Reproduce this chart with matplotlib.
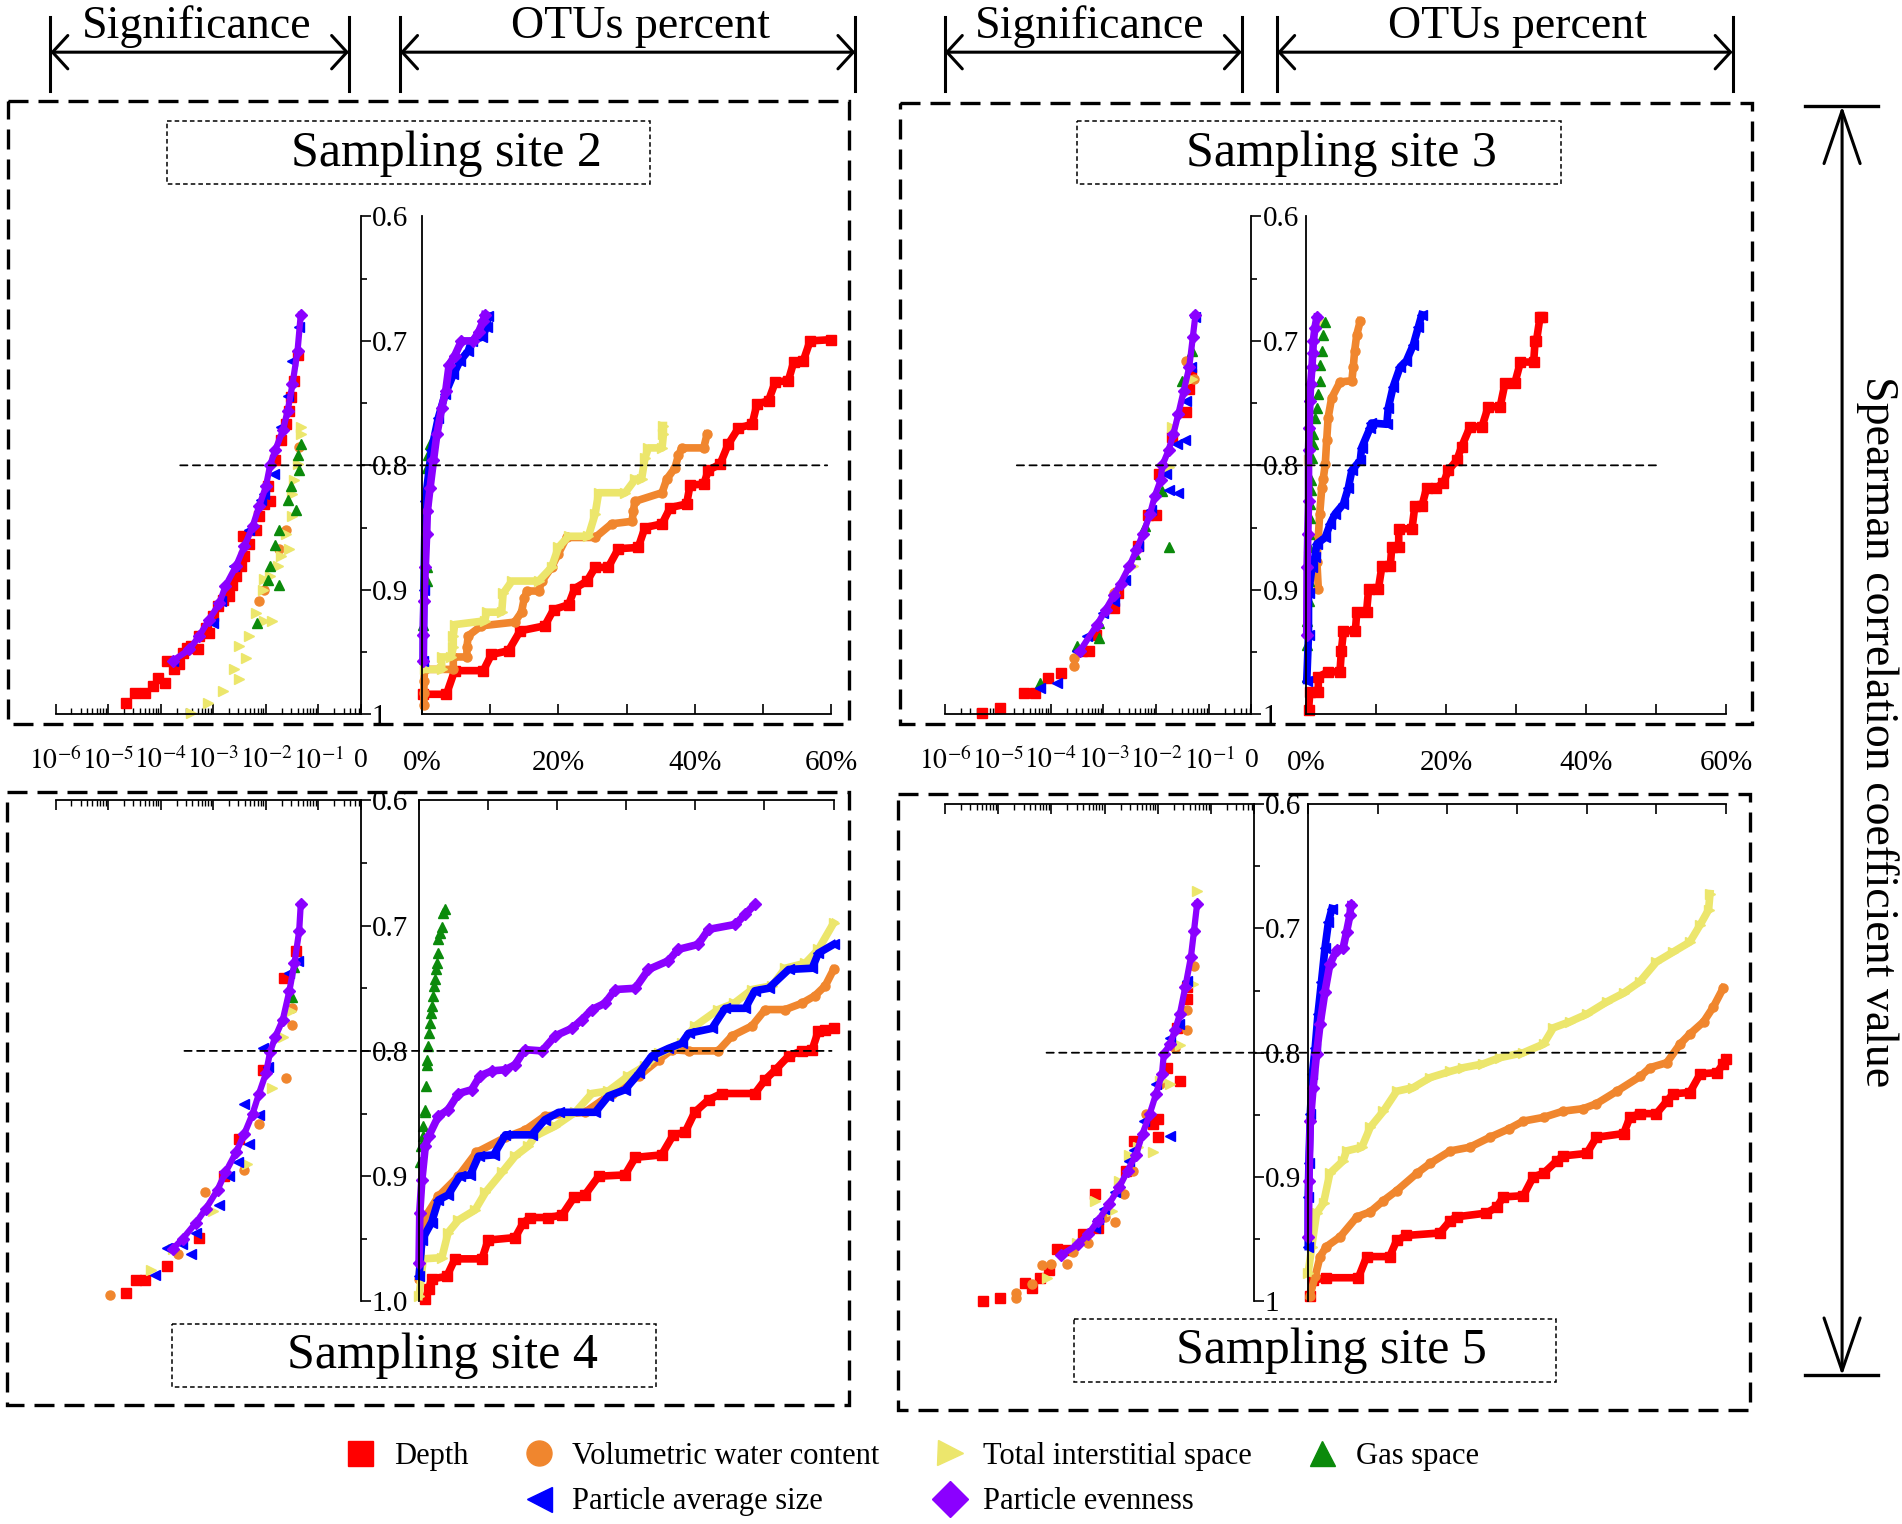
import matplotlib.pyplot as plt
from matplotlib.patches import Rectangle, ConnectionPatch
from matplotlib.lines import Line2D
from matplotlib.ticker import FixedLocator, LogLocator, NullFormatter

plt.rcParams['font.family'] = ['Liberation Serif', 'DejaVu Serif']
plt.rcParams['mathtext.fontset'] = 'stix'

# ---------------- data: OTUs percent (x in %, r = spearman) ----------------
# site 2
s2_otu_depth = [0.2, 3.6, 4.8, 9.0, 10.2, 12.7, 14.4, 18.0, 19.3, 21.5, 22.4, 24.2, 25.4, 27.3, 28.8, 31.7, 32.7,
                35.2, 36.4, 38.8, 39.3, 41.3, 42.0, 43.7, 44.9, 46.4, 48.4, 49.1, 50.8, 51.8, 53.7, 54.5, 55.9, 56.9, 60.0]
s2_otu_depth_r = [0.984, 0.984, 0.965, 0.965, 0.952, 0.949, 0.933, 0.929, 0.916, 0.912, 0.899, 0.893, 0.882, 0.882,
                  0.867, 0.866, 0.850, 0.847, 0.834, 0.831, 0.816, 0.815, 0.804, 0.799, 0.783, 0.770, 0.767, 0.751,
                  0.748, 0.733, 0.732, 0.717, 0.716, 0.700, 0.699]
s2_otu_vwc = [0.3, 0.3, 0.3, 0.4, 4.6, 4.6, 6.6, 6.6, 6.8, 8.7, 13.6, 14.6, 15.0, 15.4, 17.1, 17.6, 19.0, 20.0, 21.2,
              25.4, 27.8, 30.8, 31.0, 31.2, 35.2, 35.9, 37.1, 37.6, 38.1, 41.3, 41.8]
s2_otu_vwc_r = [0.993, 0.983, 0.973, 0.964, 0.964, 0.954, 0.954, 0.946, 0.937, 0.929, 0.926, 0.918, 0.907, 0.901,
                0.901, 0.893, 0.882, 0.871, 0.858, 0.858, 0.847, 0.845, 0.837, 0.829, 0.822, 0.811, 0.802, 0.792,
                0.786, 0.786, 0.775]
s2_otu_tis = [0.4, 2.9, 2.9, 4.3, 4.6, 4.6, 4.8, 9.2, 9.5, 11.7, 11.9, 13.2, 17.1, 19.0, 20.0, 21.5, 24.4, 25.4, 25.9,
              29.8, 31.3, 32.2, 32.7, 33.2, 35.2, 35.4, 35.4]
s2_otu_tis_r = [0.964, 0.964, 0.954, 0.954, 0.946, 0.937, 0.928, 0.925, 0.918, 0.918, 0.903, 0.893, 0.893, 0.882,
                0.866, 0.857, 0.857, 0.839, 0.822, 0.822, 0.811, 0.811, 0.794, 0.786, 0.786, 0.775, 0.768]
s2_otu_gas = [0.2, 0.7, 0.8, 0.7, 0.9, 1.2]
s2_otu_gas_r = [0.928, 0.893, 0.882, 0.802, 0.792, 0.783]
s2_otu_pas = [0.2, 0.3, 0.5, 1.4, 2.4, 3.4, 4.6, 5.6, 6.8, 7.3, 8.8, 9.5, 9.7]
s2_otu_pas_r = [0.957, 0.900, 0.829, 0.788, 0.762, 0.743, 0.727, 0.716, 0.708, 0.700, 0.697, 0.689, 0.680]
s2_otu_pe = [0.2, 0.2, 0.3, 0.5, 0.7, 0.8, 1.2, 1.7, 2.2, 2.9, 3.5, 4.0, 4.8, 5.8, 7.5, 8.3, 9.0, 9.2]
s2_otu_pe_r = [0.957, 0.936, 0.909, 0.882, 0.855, 0.837, 0.818, 0.796, 0.775, 0.754, 0.740, 0.719, 0.712, 0.700,
               0.700, 0.693, 0.684, 0.679]

# site 3
s3_otu_depth = [0.3, 0.5, 1.7, 1.7, 3.1, 4.8, 5.0, 5.3, 7.0, 7.2, 8.6, 8.9, 10.3, 10.8, 12.0, 12.2, 13.2, 13.2, 15.1,
                15.5, 16.5, 17.2, 18.6, 19.6, 20.3, 21.5, 22.2, 23.4, 25.1, 26.0, 27.7, 28.4, 29.8, 30.6, 32.5, 32.7,
                32.9, 33.4, 33.7]
s3_otu_depth_r = [0.997, 0.982, 0.982, 0.970, 0.966, 0.966, 0.949, 0.933, 0.933, 0.918, 0.918, 0.899, 0.899, 0.881,
                  0.881, 0.866, 0.866, 0.851, 0.851, 0.833, 0.833, 0.818, 0.818, 0.814, 0.804, 0.796, 0.785, 0.769,
                  0.769, 0.753, 0.753, 0.734, 0.734, 0.717, 0.717, 0.700, 0.700, 0.681, 0.681]
s3_otu_vwc = [1.7, 1.5, 1.7, 1.9, 2.2, 2.4, 2.7, 2.9, 3.1, 3.6, 4.8, 6.5, 6.7, 6.9, 7.2, 7.7]
s3_otu_vwc_r = [0.899, 0.878, 0.858, 0.839, 0.818, 0.811, 0.799, 0.780, 0.762, 0.746, 0.733, 0.732, 0.721, 0.708,
                0.695, 0.684]
s3_otu_tis = [0.3, 1.0, 2.4]
s3_otu_tis_r = [0.796, 0.735, 0.685]
s3_otu_gas = [0.05, 0.05, 0.1, 0.3, 0.3, 0.3, 0.4, 0.4, 0.5, 0.5, 0.6, 0.6, 0.8, 0.9, 1.0, 1.2, 1.5, 1.7, 1.9, 2.0,
              2.2, 2.4, 2.7]
s3_otu_gas_r = [0.970, 0.944, 0.925, 0.909, 0.893, 0.879, 0.866, 0.855, 0.842, 0.831, 0.820, 0.812, 0.794, 0.783,
                0.775, 0.762, 0.754, 0.743, 0.732, 0.719, 0.708, 0.695, 0.685]
s3_otu_pas = [0.05, 0.3, 0.3, 0.8, 1.2, 1.5, 2.7, 3.4, 4.1, 5.3, 6.0, 6.5, 7.7, 7.9, 9.1, 9.3, 11.5, 11.7, 12.4, 13.4,
              14.3, 15.3, 16.0, 16.5]
s3_otu_pas_r = [0.973, 0.936, 0.903, 0.882, 0.874, 0.863, 0.858, 0.847, 0.839, 0.831, 0.818, 0.804, 0.796, 0.786,
                0.770, 0.766, 0.767, 0.754, 0.737, 0.721, 0.716, 0.703, 0.689, 0.679]
s3_otu_pe = [0.05, 0.1, 0.2, 0.3, 0.3, 0.4, 0.5, 0.6, 0.8, 0.9, 1.0, 1.2, 1.5]
s3_otu_pe_r = [0.936, 0.882, 0.855, 0.829, 0.788, 0.770, 0.748, 0.735, 0.721, 0.710, 0.700, 0.690, 0.681]

# site 4
s4_otu_depth = [0.9, 1.4, 1.8, 4.0, 5.2, 9.1, 10.0, 13.9, 15.1, 16.1, 18.7, 20.7, 22.4, 24.0, 26.0, 29.8, 31.3, 35.1,
                36.8, 38.5, 39.9, 41.9, 43.8, 48.6, 50.1, 51.6, 53.5, 55.4, 56.9, 57.8, 58.8, 60.0]
s4_otu_depth_r = [0.998, 0.990, 0.982, 0.980, 0.966, 0.966, 0.951, 0.949, 0.937, 0.933, 0.933, 0.931, 0.917, 0.915,
                  0.900, 0.899, 0.885, 0.883, 0.867, 0.865, 0.849, 0.839, 0.834, 0.834, 0.823, 0.815, 0.804, 0.800,
                  0.799, 0.784, 0.783, 0.782]
s4_otu_vwc = [0.0, 0.6, 2.8, 5.7, 8.3, 12.5, 15.4, 18.2, 24.0, 27.9, 31.8, 34.7, 36.6, 39.0, 43.3, 45.3, 48.2, 50.1,
              53.0, 55.4, 57.3, 58.8, 60.0]
s4_otu_vwc_r = [0.982, 0.935, 0.916, 0.900, 0.881, 0.869, 0.863, 0.852, 0.849, 0.834, 0.820, 0.807, 0.799, 0.800,
                0.800, 0.788, 0.780, 0.767, 0.767, 0.762, 0.756, 0.748, 0.735]
s4_otu_tis = [0.0, 0.6, 3.3, 4.2, 5.7, 8.1, 9.6, 12.0, 13.9, 15.8, 16.8, 19.7, 22.6, 25.0, 27.4, 30.3, 32.7, 34.7,
              38.0, 40.0, 43.3, 45.6, 48.2, 51.1, 53.0, 55.9, 57.8, 60.0]
s4_otu_tis_r = [0.996, 0.966, 0.965, 0.945, 0.935, 0.927, 0.913, 0.897, 0.884, 0.876, 0.868, 0.860, 0.849, 0.834,
                0.832, 0.820, 0.812, 0.802, 0.794, 0.780, 0.767, 0.762, 0.751, 0.748, 0.734, 0.730, 0.719, 0.698]
s4_otu_gas = [0.1, 0.3, 0.5, 0.6, 0.8, 0.9, 1.0, 1.1, 1.1, 1.3, 1.4, 1.6, 1.7, 1.8, 2.0, 2.2, 2.3, 2.5, 2.6, 2.7,
              2.8, 3.0, 3.3, 3.5, 3.7]
s4_otu_gas_r = [0.889, 0.876, 0.868, 0.860, 0.849, 0.847, 0.828, 0.811, 0.807, 0.796, 0.786, 0.778, 0.770, 0.764,
                0.756, 0.748, 0.743, 0.735, 0.730, 0.722, 0.711, 0.706, 0.701, 0.690, 0.687]
s4_otu_pas = [0.0, 0.4, 1.8, 2.8, 4.2, 5.9, 7.4, 8.6, 10.8, 12.5, 16.3, 18.2, 20.2, 25.5, 27.4, 29.8, 31.8, 33.7, 36.1,
              38.0, 39.0, 42.4, 44.3, 47.2, 48.6, 50.6, 53.5, 56.9, 57.8, 60.0]
s4_otu_pas_r = [0.980, 0.951, 0.937, 0.919, 0.915, 0.900, 0.899, 0.884, 0.883, 0.867, 0.867, 0.855, 0.849, 0.849,
                0.836, 0.831, 0.818, 0.804, 0.798, 0.794, 0.786, 0.782, 0.766, 0.766, 0.752, 0.750, 0.735, 0.734,
                0.722, 0.715]
s4_otu_pe = [0.0, 0.1, 0.4, 0.9, 1.4, 2.8, 4.2, 5.7, 7.6, 8.8, 10.5, 12.5, 13.9, 15.3, 17.8, 19.7, 22.1, 23.6, 25.0,
             26.9, 28.4, 31.3, 33.2, 36.1, 37.5, 40.4, 41.9, 45.8, 47.2, 48.6]
s4_otu_pe_r = [0.969, 0.929, 0.903, 0.876, 0.868, 0.852, 0.847, 0.834, 0.831, 0.820, 0.816, 0.815, 0.811, 0.799,
               0.800, 0.788, 0.782, 0.775, 0.767, 0.762, 0.751, 0.750, 0.735, 0.728, 0.719, 0.715, 0.703, 0.699,
               0.691, 0.683]

# site 5
s5_otu_depth = [0.2, 0.7, 2.6, 7.2, 8.4, 11.7, 12.7, 14.1, 18.9, 20.4, 21.3, 25.6, 27.1, 28.0, 30.9, 32.3, 33.8, 35.7,
                36.6, 40.0, 41.4, 45.3, 46.2, 47.6, 50.0, 51.5, 52.4, 54.8, 56.3, 58.7, 59.6, 60.0]
s5_otu_depth_r = [0.996, 0.983, 0.981, 0.981, 0.964, 0.964, 0.951, 0.947, 0.945, 0.935, 0.932, 0.929, 0.924, 0.916,
                  0.915, 0.900, 0.897, 0.887, 0.883, 0.881, 0.868, 0.865, 0.852, 0.849, 0.849, 0.839, 0.833, 0.832,
                  0.817, 0.816, 0.809, 0.805]
s5_otu_vwc = [0.2, 1.0, 1.7, 2.6, 4.6, 7.0, 8.9, 10.8, 12.7, 15.6, 17.5, 20.4, 23.2, 26.1, 28.9, 30.9, 33.8, 36.6,
              39.5, 41.4, 44.3, 47.7, 49.1, 51.5, 53.4, 54.8, 56.8, 58.2, 59.6]
s5_otu_vwc_r = [0.996, 0.980, 0.964, 0.956, 0.948, 0.932, 0.928, 0.919, 0.911, 0.897, 0.889, 0.879, 0.876, 0.868,
                0.861, 0.855, 0.852, 0.847, 0.845, 0.841, 0.831, 0.819, 0.812, 0.808, 0.793, 0.785, 0.775, 0.763, 0.748]
s5_otu_tis = [0.0, 0.5, 1.2, 2.2, 3.1, 5.0, 5.5, 7.7, 8.9, 10.8, 12.7, 15.1, 17.5, 20.4, 22.3, 25.1, 27.5, 30.9, 33.8,
              35.2, 37.6, 40.0, 42.9, 45.3, 47.6, 50.0, 52.4, 54.8, 56.3, 57.5, 57.7]
s5_otu_tis_r = [0.977, 0.956, 0.929, 0.921, 0.897, 0.887, 0.879, 0.876, 0.860, 0.847, 0.831, 0.828, 0.820, 0.815,
                0.812, 0.809, 0.804, 0.800, 0.793, 0.780, 0.775, 0.769, 0.759, 0.752, 0.743, 0.727, 0.719, 0.711,
                0.697, 0.685, 0.672]
s5_otu_gas = []
s5_otu_gas_r = []
s5_otu_pas = [0.0, 0.0, 0.1, 0.3, 0.6, 1.0, 1.4, 1.9, 2.4, 2.9, 3.4]
s5_otu_pas_r = [0.956, 0.916, 0.889, 0.849, 0.817, 0.796, 0.769, 0.743, 0.716, 0.695, 0.684]
s5_otu_pe = [0.0, 0.1, 0.3, 0.7, 1.2, 1.7, 2.4, 3.1, 4.1, 5.0, 5.5, 6.0, 6.1]
s5_otu_pe_r = [0.948, 0.903, 0.855, 0.828, 0.801, 0.777, 0.751, 0.729, 0.717, 0.716, 0.703, 0.689, 0.681]

# ---------------- data: significance (p value, r) ----------------
s2_sig_depth = [2.2e-5, 3.2e-5, 4.9e-5, 7.1e-5, 8.7e-5, 1.2e-4, 1.3e-4, 1.8e-4, 2.2e-4, 2.6e-4, 3.2e-4, 3.8e-4,
                5.0e-4, 5.4e-4, 7.2e-4, 8.3e-4, 1.0e-3, 1.2e-3, 1.5e-3, 2.0e-3, 2.3e-3, 2.7e-3, 3.4e-3, 3.6e-3,
                3.9e-3, 4.8e-3, 6.5e-3, 7.4e-3, 9.3e-3, 1.2e-2, 1.1e-2, 1.5e-2, 1.9e-2, 2.4e-2, 2.8e-2, 3.0e-2,
                3.5e-2, 4.0e-2]
s2_sig_depth_r = [0.991, 0.983, 0.983, 0.977, 0.971, 0.975, 0.957, 0.964, 0.960, 0.951, 0.947, 0.945, 0.948, 0.937,
                  0.931, 0.935, 0.921, 0.913, 0.908, 0.905, 0.896, 0.889, 0.881, 0.857, 0.873, 0.863, 0.852, 0.841,
                  0.831, 0.829, 0.817, 0.796, 0.780, 0.767, 0.756, 0.745, 0.732, 0.711]
s2_sig_vwc = [4.3e-2, 2.4e-2, 1.8e-2, 9.3e-3, 7.4e-3]
s2_sig_vwc_r = [0.785, 0.852, 0.867, 0.900, 0.909]
s2_sig_tis = [4.6e-2, 4.6e-2, 4.0e-2, 3.5e-2, 3.2e-2, 3.2e-2, 2.4e-2, 2.8e-2, 1.9e-2, 1.7e-2, 1.2e-2, 9.3e-3, 8.7e-3,
              6.5e-3, 9.3e-3, 1.3e-2, 4.8e-3, 3.1e-3, 4.2e-3, 2.5e-3, 3.1e-3, 1.5e-3, 7.8e-4, 3.8e-4]
s2_sig_tis_r = [0.769, 0.775, 0.799, 0.812, 0.823, 0.841, 0.855, 0.867, 0.873, 0.881, 0.889, 0.891, 0.900, 0.919,
                0.925, 0.925, 0.937, 0.945, 0.955, 0.964, 0.972, 0.981, 0.991, 0.999]
s2_sig_gas = [4.6e-2, 4.0e-2, 4.3e-2, 3.0e-2, 2.6e-2, 3.7e-2, 1.8e-2, 1.5e-2, 1.2e-2, 1.1e-2, 1.8e-2, 6.9e-3]
s2_sig_gas_r = [0.783, 0.792, 0.804, 0.817, 0.828, 0.836, 0.852, 0.864, 0.881, 0.892, 0.896, 0.927]
s2_sig_pas = [1.7e-4, 9.8e-4, 1.4e-3, 2.5e-3, 4.8e-3, 8.1e-3, 9.3e-3, 1.4e-2, 1.9e-2, 2.6e-2, 3.2e-2, 4.3e-2]
s2_sig_pas_r = [0.957, 0.927, 0.909, 0.881, 0.852, 0.828, 0.823, 0.807, 0.769, 0.744, 0.716, 0.689]
s2_sig_pe = [1.7e-4, 3.5e-4, 5.4e-4, 8.3e-4, 1.3e-3, 1.7e-3, 2.7e-3, 3.9e-3, 5.6e-3, 7.4e-3, 1.0e-2, 1.2e-2, 1.5e-2,
             2.1e-2, 2.6e-2, 3.2e-2, 4.0e-2, 4.6e-2]
s2_sig_pe_r = [0.957, 0.948, 0.937, 0.924, 0.911, 0.897, 0.881, 0.865, 0.849, 0.833, 0.817, 0.800, 0.788, 0.772,
               0.756, 0.735, 0.708, 0.679]

s3_sig_depth = [5.1e-6, 1.1e-5, 3.2e-5, 5.0e-5, 9.1e-5, 1.6e-4, 4.0e-4, 5.3e-4, 7.1e-4, 1.6e-3, 1.9e-3, 4.5e-3,
                7.1e-3, 9.8e-3, 1.1e-2, 2.0e-2, 3.6e-2, 4.2e-2, 4.5e-2]
s3_sig_depth_r = [0.999, 0.995, 0.983, 0.983, 0.971, 0.967, 0.949, 0.949, 0.936, 0.915, 0.903, 0.865, 0.840, 0.840,
                  0.807, 0.777, 0.757, 0.739, 0.727]
s3_sig_vwc = [2.8e-4, 2.8e-4, 1.6e-3, 3.6e-2, 5.1e-2]
s3_sig_vwc_r = [0.955, 0.961, 0.903, 0.716, 0.731]
s3_sig_tis = [3.6e-3, 1.7e-2, 2.0e-2, 4.8e-2]
s3_sig_tis_r = [0.881, 0.801, 0.769, 0.731]
s3_sig_gas = [6.2e-5, 3.2e-4, 8.3e-4, 8.3e-4, 3.9e-3, 6.0e-3, 1.3e-2, 1.7e-2, 3.1e-2, 4.8e-2]
s3_sig_gas_r = [0.975, 0.945, 0.939, 0.927, 0.871, 0.849, 0.821, 0.866, 0.732, 0.708]
s3_sig_pas = [6.2e-5, 1.3e-4, 3.2e-4, 4.9e-4, 1.0e-3, 1.6e-3, 2.5e-3, 4.5e-3, 8.1e-3, 1.5e-2, 1.7e-2, 2.6e-2, 2.5e-2,
              3.5e-2, 3.6e-2, 4.5e-2, 5.5e-2]
s3_sig_pas_r = [0.979, 0.975, 0.949, 0.937, 0.919, 0.909, 0.892, 0.865, 0.836, 0.807, 0.820, 0.822, 0.783, 0.780,
                0.748, 0.721, 0.681]
s3_sig_pe = [3.6e-4, 7.6e-4, 1.1e-3, 1.6e-3, 2.1e-3, 3.1e-3, 4.2e-3, 5.6e-3, 7.6e-3, 9.3e-3, 1.2e-2, 1.3e-2, 1.7e-2,
             2.1e-2, 2.6e-2, 3.3e-2, 4.2e-2, 4.9e-2, 5.5e-2]
s3_sig_pe_r = [0.949, 0.928, 0.916, 0.904, 0.895, 0.881, 0.868, 0.855, 0.839, 0.825, 0.812, 0.800, 0.788, 0.775,
               0.759, 0.740, 0.721, 0.697, 0.679]

s4_sig_depth = [2.2e-5, 3.4e-5, 4.9e-5, 1.3e-4, 5.4e-4, 1.6e-3, 3.1e-3, 8.7e-3, 2.2e-2, 3.7e-2]
s4_sig_depth_r = [0.993, 0.983, 0.983, 0.972, 0.949, 0.900, 0.870, 0.815, 0.742, 0.720]
s4_sig_vwc = [1.1e-5, 2.1e-4, 6.8e-4, 3.9e-3, 7.4e-3, 2.4e-2, 3.2e-2, 3.2e-2]
s4_sig_vwc_r = [0.995, 0.962, 0.913, 0.895, 0.858, 0.822, 0.779, 0.766]
s4_sig_tis = [6.6e-5, 1.7e-4, 9.8e-4, 4.4e-3, 1.3e-2, 2.1e-2, 3.0e-2]
s4_sig_tis_r = [0.975, 0.958, 0.928, 0.890, 0.830, 0.789, 0.768]
s4_sig_gas = [3.5e-2, 3.2e-2]
s4_sig_gas_r = [0.733, 0.757]
s4_sig_pas = [7.6e-5, 1.3e-4, 2.5e-4, 3.8e-4, 4.7e-4, 1.3e-3, 2.0e-3, 2.9e-3, 3.9e-3, 4.8e-3, 7.4e-3, 8.7e-3, 1.1e-2,
              2.8e-2, 4.0e-2]
s4_sig_pas_r = [0.979, 0.957, 0.954, 0.962, 0.945, 0.923, 0.900, 0.889, 0.842, 0.874, 0.851, 0.798, 0.813, 0.738,
                0.728]
s4_sig_pe = [1.7e-4, 2.6e-4, 4.7e-4, 7.2e-4, 1.2e-3, 1.7e-3, 2.7e-3, 3.9e-3, 5.6e-3, 7.4e-3, 1.0e-2, 1.2e-2, 1.5e-2,
             2.1e-2, 2.8e-2, 3.5e-2, 4.3e-2, 4.6e-2]
s4_sig_pe_r = [0.958, 0.950, 0.937, 0.926, 0.911, 0.897, 0.881, 0.866, 0.850, 0.834, 0.818, 0.801, 0.789, 0.775,
               0.752, 0.730, 0.704, 0.683]

s5_sig_depth = [5.1e-6, 1.1e-5, 3.2e-5, 4.3e-5, 6.2e-5, 9.1e-5, 1.3e-4, 1.9e-4, 4.0e-4, 6.6e-4, 7.6e-4, 2.5e-3,
                3.6e-3, 8.1e-3, 9.9e-3, 1.0e-2, 1.5e-2, 2.6e-2, 2.3e-2, 3.6e-2, 3.6e-2]
s5_sig_depth_r = [1.000, 0.997, 0.985, 0.989, 0.981, 0.975, 0.958, 0.959, 0.946, 0.914, 0.941, 0.895, 0.871, 0.857,
                  0.853, 0.868, 0.812, 0.823, 0.780, 0.757, 0.747]
s5_sig_vwc = [2.2e-5, 2.2e-5, 4.3e-5, 6.8e-5, 9.8e-5, 2.0e-4, 2.5e-4, 4.9e-4, 1.0e-3, 1.6e-3, 2.3e-3, 3.4e-3, 6.0e-3,
              1.1e-2, 2.1e-2, 3.6e-2, 3.6e-2, 4.8e-2]
s5_sig_vwc_r = [0.993, 0.997, 0.986, 0.971, 0.970, 0.970, 0.960, 0.953, 0.932, 0.936, 0.914, 0.895, 0.849, 0.825,
                0.796, 0.782, 0.766, 0.730]
s5_sig_tis = [8.3e-5, 3.0e-4, 6.6e-4, 1.4e-3, 1.9e-3, 2.9e-3, 4.2e-3, 8.1e-3, 1.1e-2, 1.7e-2, 2.6e-2, 4.5e-2, 5.5e-2]
s5_sig_tis_r = [0.981, 0.953, 0.919, 0.927, 0.903, 0.882, 0.876, 0.880, 0.823, 0.825, 0.794, 0.745, 0.670]
s5_sig_gas = []
s5_sig_gas_r = []
s5_sig_pas = [6.6e-4, 7.6e-4, 9.6e-4, 1.6e-3, 2.9e-3, 3.6e-3, 5.6e-3, 9.3e-3, 1.7e-2, 1.7e-2, 2.5e-2, 3.6e-2]
s5_sig_pas_r = [0.941, 0.934, 0.926, 0.912, 0.887, 0.878, 0.855, 0.825, 0.867, 0.788, 0.777, 0.742]
s5_sig_pe = [1.5e-4, 3.2e-4, 4.9e-4, 7.6e-4, 1.2e-3, 1.9e-3, 2.7e-3, 3.9e-3, 5.2e-3, 7.1e-3, 9.3e-3, 1.2e-2, 1.3e-2,
             1.7e-2, 2.1e-2, 2.6e-2, 3.3e-2, 4.2e-2, 4.8e-2, 5.5e-2]
s5_sig_pe_r = [0.963, 0.954, 0.946, 0.935, 0.922, 0.908, 0.895, 0.882, 0.865, 0.849, 0.833, 0.817, 0.801, 0.793,
               0.782, 0.769, 0.747, 0.723, 0.702, 0.680]

names = ['Depth', 'Volumetric water content', 'Total interstitial space', 'Gas space',
         'Particle average size', 'Particle evenness']
keys = ['depth', 'vwc', 'tis', 'gas', 'pas', 'pe']
colors = ['#ff0000', '#f0862e', '#ece66c', '#0b8a0b', '#0000ff', '#8b00ff']
markers = ['s', 'o', '>', '^', '<', 'D']

sig_ticks = [1e-6, 1e-5, 1e-4, 1e-3, 1e-2, 1e-1, 10 ** -0.2]
sig_labels = [r'$10^{-6}$', r'$10^{-5}$', r'$10^{-4}$', r'$10^{-3}$', r'$10^{-2}$', r'$10^{-1}$', '0']

W, H = 1568, 1256   # layout grid of the reference picture
fig = plt.figure(figsize=(19.02, 15.24), dpi=100)


def rect(x0, y0, x1, y1):
    return [x0 / W, 1 - y1 / H, (x1 - x0) / W, (y1 - y0) / H]


g = globals()
sites = [
    dict(n=2, title='Sampling site 2', top=True, sig=rect(45.9, 178.4, 297.2, 588.6), otu=rect(347.8, 178.4, 685.3, 588.6),
         ylab=['0.6', '0.7', '0.8', '0.9', '1'], p0=10 ** -3.63, x1=59.4,
         box=(7, 83, 700, 597), tbox=(138, 100, 536, 152), txt=(368, 127)),
    dict(n=3, title='Sampling site 3', top=True, sig=rect(779.0, 178.4, 1031.7, 588.6), otu=rect(1077.0, 178.4, 1422.9, 588.6),
         ylab=['0.6', '0.7', '0.8', '0.9', '1'], p0=10 ** -4.64, x1=50.3,
         box=(742, 85, 1444, 597), tbox=(888, 100, 1287, 152), txt=(1106, 127)),
    dict(n=4, title='Sampling site 4', top=False, sig=rect(45.9, 659.6, 297.2, 1072.6), otu=rect(345.5, 659.6, 687.2, 1072.6),
         ylab=['0.6', '0.7', '0.8', '0.9', '1.0'], p0=10 ** -3.55, x1=59.7,
         box=(6, 653, 700, 1158), tbox=(142, 1091, 541, 1143), txt=(365, 1117)),
    dict(n=5, title='Sampling site 5', top=False, sig=rect(779.0, 662.7, 1033.4, 1072.5), otu=rect(1078.5, 662.7, 1422.9, 1072.5),
         ylab=['0.6', '0.7', '0.8', '0.9', '1'], p0=10 ** -4.09, x1=54.9,
         box=(740, 654, 1443, 1162), tbox=(885, 1087, 1283, 1139), txt=(1098, 1113)),
]

for s in sites:
    n, top = s['n'], s['top']
    # significance panel
    ax = fig.add_axes(s['sig'])
    ax.set_xscale('log')
    ax.set_xlim(1e-6, 10 ** -0.2)
    ax.set_ylim(1.0, 0.6)
    ax.spines['left'].set_visible(False)
    ax.spines['top' if top else 'bottom'].set_visible(False)
    for sp in ax.spines.values():
        sp.set_linewidth(1.3)
    ax.yaxis.tick_right()
    ax.yaxis.set_major_locator(FixedLocator([0.6, 0.7, 0.8, 0.9, 1.0]))
    ax.set_yticklabels(s['ylab'])
    ax.yaxis.set_minor_locator(FixedLocator([0.65, 0.75, 0.85, 0.95]))
    ax.tick_params(axis='y', which='major', direction='out', length=7, width=1.2, labelsize=21, pad=1)
    ax.tick_params(axis='y', which='minor', direction='out', length=4, width=1.2)
    ax.set_xticks(sig_ticks)
    ax.xaxis.set_minor_locator(LogLocator(base=10, subs=range(2, 10), numticks=30))
    ax.xaxis.set_minor_formatter(NullFormatter())
    if top:
        ax.xaxis.tick_bottom()
        ax.set_xticklabels(sig_labels)
    else:
        ax.xaxis.tick_top()
        ax.tick_params(axis='x', labeltop=False)
    ax.tick_params(axis='x', which='major', direction='in', length=7, width=1.2, labelsize=20, pad=24)
    ax.tick_params(axis='x', which='minor', direction='in', length=4, width=1.0)
    for k, c, m in zip(keys, colors, markers):
        x = g[f's{n}_sig_{k}']
        r = g[f's{n}_sig_{k}_r']
        lw = 4.5 if k == 'pe' else 0
        ax.plot(x, r, color=c, marker=m, ms=6.5, lw=lw, ls='-' if lw else 'none', clip_on=False)
    ax_sig = ax

    # OTUs percent panel
    ax = fig.add_axes(s['otu'])
    ax.set_xlim(0, 60)
    ax.set_ylim(1.0, 0.6)
    ax.spines['right'].set_visible(False)
    ax.spines['top' if top else 'bottom'].set_visible(False)
    for sp in ax.spines.values():
        sp.set_linewidth(1.3)
    ax.tick_params(axis='y', left=False, labelleft=False)
    ax.set_xticks(range(0, 61, 10))
    if top:
        ax.xaxis.tick_bottom()
        ax.set_xticklabels(['0%', '', '20%', '', '40%', '', '60%'])
    else:
        ax.xaxis.tick_top()
        ax.tick_params(axis='x', labeltop=False)
    ax.tick_params(axis='x', direction='in', length=7, width=1.2, labelsize=21, pad=26)
    for k, c, m in zip(keys, colors, markers):
        x = g[f's{n}_otu_{k}']
        r = g[f's{n}_otu_{k}_r']
        lw = 5.5 if (k != 'gas' and len(x) > 5) else 0
        ax.plot(x, r, color=c, marker=m, ms=6.5, lw=lw, ls='-' if lw else 'none', clip_on=False)

    # reference line at r = 0.8 across both panels
    con = ConnectionPatch(xyA=(s['p0'], 0.8), coordsA=ax_sig.transData,
                          xyB=(s['x1'], 0.8), coordsB=ax.transData,
                          ls=(0, (4, 3)), lw=1.3, color='black', zorder=5)
    fig.add_artist(con)

# ---------------- overlay: frames, headers, arrows ----------------
ov = fig.add_axes([0, 0, 1, 1], zorder=10)
ov.set_xlim(0, W)
ov.set_ylim(H, 0)
ov.axis('off')
ov.patch.set_visible(False)

for s in sites:
    x0, y0, x1, y1 = s['box']
    ov.add_patch(Rectangle((x0, y0), x1 - x0, y1 - y0, fill=False, ec='black', lw=2.4, ls=(0, (6, 3))))
    x0, y0, x1, y1 = s['tbox']
    ov.add_patch(Rectangle((x0, y0), x1 - x0, y1 - y0, fill=False, ec='black', lw=1.1, ls=(0, (3, 2))))
    ov.text(s['txt'][0], s['txt'][1], s['title'], fontsize=36, ha='center', va='center')

headers = [(41.6, 287.7, 161.8, 'Significance'), (329.9, 705.1, 527.7, 'OTUs percent'),
           (779.0, 1023.7, 898.6, 'Significance'), (1053.0, 1428.3, 1251.0, 'OTUs percent')]
for xl, xr, xt, label in headers:
    ov.annotate('', xy=(xl, 43), xytext=(xr, 43),
                arrowprops=dict(arrowstyle='<->,head_length=1.1,head_width=1.2', lw=2.2, color='black',
                                shrinkA=0, shrinkB=0))
    ov.plot([xl, xl], [14, 75], color='black', lw=2.2)
    ov.plot([xr, xr], [14, 75], color='black', lw=2.2)
    ov.text(xt, 31, label, fontsize=33, ha='center', va='baseline')

ov.annotate('', xy=(1518.6, 87.4), xytext=(1518.6, 1133.6),
            arrowprops=dict(arrowstyle='<->,head_length=3.8,head_width=1.3', lw=2.2, color='black',
                            shrinkA=0, shrinkB=0))
ov.plot([1488, 1548], [87.4, 87.4], color='black', lw=2.4)
ov.plot([1488, 1548], [1133.6, 1133.6], color='black', lw=2.4)
ov.text(1548, 602.6, 'Spearman correlation coefficient value', fontsize=33, rotation=270,
        ha='center', va='center')

# ---------------- legend ----------------
hd = [Line2D([], [], ls='none', marker=m, color=c, ms=18, label=nm) for nm, c, m in zip(names, colors, markers)]
blank = Line2D([], [], ls='none', label=' ')
order = [hd[0], blank, hd[1], hd[4], hd[2], hd[5], hd[3], blank]
fig.legend(handles=order, ncol=4, loc='center', bbox_to_anchor=(0.4795, 0.0295), frameon=False, fontsize=22,
           handlelength=1.0, handletextpad=0.6, columnspacing=1.8, labelspacing=0.55)

fig.savefig('out.png', dpi=100)
